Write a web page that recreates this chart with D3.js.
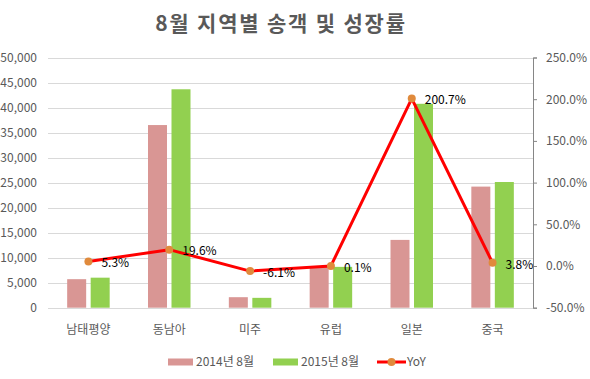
<!DOCTYPE html>
<html><head><meta charset="utf-8">
<script src="https://cdn.jsdelivr.net/npm/d3@7"></script>
<style>body{margin:0;background:#fff}text{font-family:"Noto Sans CJK KR","Noto Sans",sans-serif}</style>
</head><body><svg id="c" width="590" height="379"></svg>
<script>
const categories = ["남태평양","동남아","미주","유럽","일본","중국"];
const values2014 = [5700, 36500, 2100, 8150, 13550, 24200];
const values2015 = [6000, 43650, 1970, 8160, 40750, 25120];
const yoy = [5.3, 19.6, -6.1, 0.1, 200.7, 3.8];
const leftTicks = [0,5000,10000,15000,20000,25000,30000,35000,40000,45000,50000];
const rightTicks = [-50,0,50,100,150,200,250];
const seriesNames = ["2014년 8월","2015년 8월","YoY"];
const title = "8월 지역별 송객 및 성장률";

const svg = d3.select("#c");
const L = 48, R = 533, T = 57.5, B = 307.7;
const x = d3.scaleBand().domain(categories).range([L,R]);
const yL = d3.scaleLinear().domain([0,50000]).range([B,T]);
const yR = d3.scaleLinear().domain([-50,250]).range([B,T]);
const fmt = d3.format(",");
const grey = "#595959";

svg.append("text").attr("x",281).attr("y",31).attr("text-anchor","middle")
  .attr("font-size",21).attr("font-weight","bold").attr("letter-spacing",1.8).attr("fill",grey).text(title);

// gridlines
svg.append("g").selectAll("line").data(leftTicks.filter(d=>d>0)).join("line")
  .attr("x1",L).attr("x2",R).attr("y1",d=>Math.round(yL(d))+0.5).attr("y2",d=>Math.round(yL(d))+0.5)
  .attr("stroke","#d9d9d9").attr("stroke-width",1);

// left labels
svg.append("g").selectAll("text").data(leftTicks).join("text")
  .attr("x",37).attr("y",d=>yL(d)).attr("dy","0.35em").attr("text-anchor","end")
  .attr("font-size",12).attr("fill",grey).text(d=>fmt(d));

// right axis
const gR = svg.append("g").attr("transform",`translate(${R},0)`)
  .call(d3.axisRight(yR).tickValues(rightTicks).tickSize(4).tickFormat(d=>d.toFixed(1)+"%"));
gR.select(".domain").attr("stroke","#868686");
gR.selectAll(".tick line").attr("stroke","#868686");
gR.selectAll(".tick text").attr("x",13).attr("font-size",12).attr("fill",grey)
  .attr("font-family",'"Noto Sans CJK KR","Noto Sans",sans-serif');

// bars
const bw = 19, gap = 4.5;
const g = svg.append("g");
g.selectAll(".b1").data(categories).join("rect")
  .attr("x",d=>x(d)+x.bandwidth()/2-gap/2-bw).attr("width",bw)
  .attr("y",(d,i)=>yL(values2014[i])).attr("height",(d,i)=>B-yL(values2014[i])).attr("fill","#d99694");
g.selectAll(".b2").data(categories).join("rect")
  .attr("x",d=>x(d)+x.bandwidth()/2+gap/2).attr("width",bw)
  .attr("y",(d,i)=>yL(values2015[i])).attr("height",(d,i)=>B-yL(values2015[i])).attr("fill","#92d050");

// bottom axis line
svg.append("line").attr("x1",L).attr("x2",R).attr("y1",Math.round(B)+0.5).attr("y2",Math.round(B)+0.5)
  .attr("stroke","#d9d9d9");

// category labels
svg.append("g").selectAll("text").data(categories).join("text")
  .attr("x",d=>x(d)+x.bandwidth()/2).attr("y",330).attr("dy","0.35em").attr("text-anchor","middle")
  .attr("font-size",12).attr("fill",grey).text(d=>d);

// line
const cx = d=>x(d)+x.bandwidth()/2;
svg.append("path").datum(categories)
  .attr("d",d3.line().x(cx).y((d,i)=>yR(yoy[i])))
  .attr("fill","none").attr("stroke","#ff0000").attr("stroke-width",3).attr("stroke-linejoin","round");
svg.append("g").selectAll("circle").data(categories).join("circle")
  .attr("cx",cx).attr("cy",(d,i)=>yR(yoy[i])).attr("r",4).attr("fill","#e08a3c");
svg.append("g").selectAll("text").data(categories).join("text")
  .attr("x",d=>cx(d)+13).attr("y",(d,i)=>yR(yoy[i])+1.5).attr("dy","0.35em")
  .attr("font-size",12).attr("fill","#000").text((d,i)=>yoy[i].toFixed(1)+"%");

// legend
const ly = 362;
const leg = svg.append("g");
leg.append("rect").attr("x",168).attr("y",ly-3.5).attr("width",25).attr("height",7).attr("fill","#d99694");
leg.append("text").attr("x",196).attr("y",ly).attr("dy","0.35em").attr("font-size",12).attr("fill",grey).text(seriesNames[0]);
leg.append("rect").attr("x",273).attr("y",ly-3.5).attr("width",25).attr("height",7).attr("fill","#92d050");
leg.append("text").attr("x",301).attr("y",ly).attr("dy","0.35em").attr("font-size",12).attr("fill",grey).text(seriesNames[1]);
leg.append("line").attr("x1",377).attr("x2",406).attr("y1",ly).attr("y2",ly).attr("stroke","#ff0000").attr("stroke-width",3);
leg.append("circle").attr("cx",391.5).attr("cy",ly).attr("r",4).attr("fill","#e08a3c");
leg.append("text").attr("x",407).attr("y",ly).attr("dy","0.35em").attr("font-size",12).attr("fill",grey).text(seriesNames[2]);
</script></body></html>
